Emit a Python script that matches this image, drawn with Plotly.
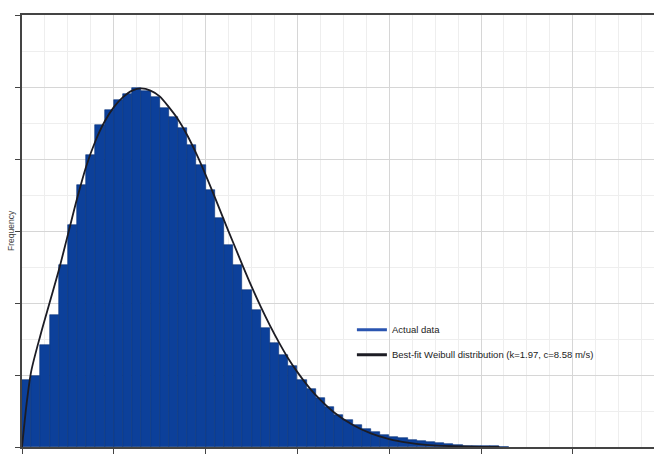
import plotly.graph_objects as go

# Histogram of wind speed (0.5 m/s bins), frequency in %
bin_width = 0.5
bin_left = [i * bin_width for i in range(53)]
actual_freq = [0.93, 0.99, 1.42, 1.83, 2.53, 3.08, 3.64, 4.06, 4.47, 4.68,
               4.82, 4.90, 4.99, 4.94, 4.86, 4.71, 4.58, 4.43, 4.19, 3.92,
               3.57, 3.18, 2.81, 2.53, 2.18, 1.90, 1.65, 1.44, 1.28, 1.13,
               0.93, 0.81, 0.68, 0.56, 0.44, 0.375, 0.31, 0.25, 0.21, 0.17,
               0.14, 0.12, 0.10, 0.08, 0.065, 0.05, 0.04, 0.03, 0.02, 0.015,
               0.01, 0.008, 0.005]

# Best-fit Weibull curve
weibull_speed = [0, 0.25, 0.5, 1, 1.5, 2, 2.5, 3, 3.5, 4, 4.5, 5, 5.5, 6, 6.5, 7, 7.5,
                 8, 8.5, 9, 9.5, 10, 10.5, 11, 11.5, 12, 12.5, 13, 13.5, 14,
                 14.5, 15, 15.5, 16, 17, 18, 19, 20, 21, 22, 23, 24, 25, 26]
weibull_freq = [0, 0.6, 1.05, 1.55, 2.0, 2.45, 2.95, 3.45, 3.9, 4.25, 4.52, 4.72,
                4.86, 4.95, 4.98, 4.95, 4.87, 4.72, 4.55, 4.33, 4.07, 3.78, 3.47,
                3.15, 2.84, 2.53, 2.23, 1.95, 1.69, 1.45, 1.23, 1.04, 0.87, 0.72,
                0.48, 0.31, 0.19, 0.11, 0.06, 0.03, 0.015, 0.007, 0.003, 0.001]

bar_name = "Actual data"
line_name = "Best-fit Weibull distribution (k=1.97, c=8.58 m/s)"
y_title = "Frequency"

BLUE = "#0c409a"
DARK = "#1c1c24"
AXIS = "#444444"

fig = go.Figure()
fig.add_trace(go.Bar(
    x=[b + bin_width / 2 for b in bin_left], y=actual_freq, width=bin_width,
    marker=dict(color=BLUE, line=dict(color="#083278", width=0.6)),
    showlegend=False,
))
fig.add_trace(go.Scatter(
    x=weibull_speed, y=weibull_freq, mode="lines",
    line=dict(color=DARK, width=1.8, shape="spline", smoothing=0.8),
    showlegend=False,
))
# legend entries drawn as short lines
fig.add_trace(go.Scatter(x=[None], y=[None], mode="lines", name=bar_name,
                         line=dict(color="#2a55b0", width=3), legendgroup="a"))
fig.add_trace(go.Scatter(x=[None], y=[None], mode="lines", name=line_name,
                         line=dict(color=DARK, width=3), legendgroup="b"))

fig.update_layout(
    width=654, height=454,
    margin=dict(l=22, r=0, t=15, b=7),
    paper_bgcolor="white", plot_bgcolor="white",
    bargap=0,
    font=dict(family="Liberation Sans, Arial, sans-serif", size=9, color="#333333"),
    legend=dict(x=0.522, y=0.305, xanchor="left", yanchor="top",
                bgcolor="rgba(0,0,0,0)", tracegroupgap=6,
                font=dict(size=9.5, color="#222222")),
    xaxis=dict(range=[0, 34.42], dtick=5, showticklabels=False,
               showgrid=True, gridcolor="#d6d6d6", gridwidth=1,
               minor=dict(dtick=1.25, showgrid=True, gridcolor="#eeeeee", gridwidth=1),
               ticks="outside", ticklen=5, tickcolor=AXIS,
               showline=True, linecolor=AXIS, linewidth=2, mirror=True,
               zeroline=False),
    yaxis=dict(range=[0, 6], dtick=1, showticklabels=False,
               showgrid=True, gridcolor="#d6d6d6", gridwidth=1,
               minor=dict(dtick=0.5, showgrid=True, gridcolor="#eeeeee", gridwidth=1),
               ticks="outside", ticklen=5, tickcolor=AXIS,
               showline=True, linecolor=AXIS, linewidth=2,
               zeroline=False),
    annotations=[dict(text=y_title, xref="paper", yref="paper", x=0, y=0.5,
                      xshift=-11, xanchor="center", yanchor="middle",
                      textangle=-90, showarrow=False,
                      font=dict(size=8.5, color="#444444"))],
)

fig.write_html("out.html")
